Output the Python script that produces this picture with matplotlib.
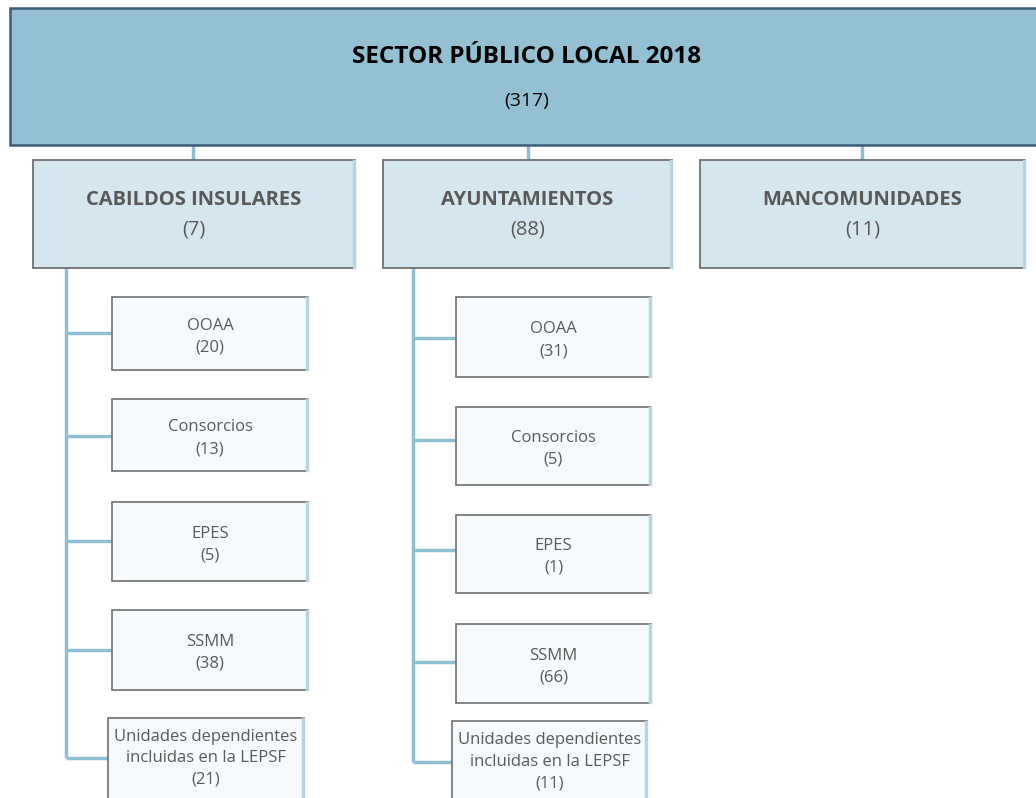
import matplotlib
matplotlib.use('Agg')
import matplotlib.pyplot as plt
import matplotlib.patches as mpatches

plt.rcParams['font.family'] = ['Open Sans', 'DejaVu Sans']

# data
title = 'SECTOR PÚBLICO LOCAL 2018'
total = 317
groups = ['CABILDOS INSULARES', 'AYUNTAMIENTOS', 'MANCOMUNIDADES']
group_counts = [7, 88, 11]
children = ['OOAA', 'Consorcios', 'EPES', 'SSMM', 'Unidades dependientes\nincluidas en la LEPSF']
cabildos_counts = [20, 13, 5, 38, 21]
ayunt_counts = [31, 5, 1, 66, 11]

# colours
TOP_FILL = '#93C0D3'; TOP_EDGE = '#3B5E78'
MID_FILL = '#D6E6EE'; CHILD_FILL = '#F6FAFC'
EDGE = '#707070'; LINK = '#8EBFD2'; TXT = '#595959'

W, H = 1036, 798
fig = plt.figure(figsize=(W / 100, H / 100), dpi=100)
ax = fig.add_axes([0, 0, 1, 1])
ax.set_xlim(0, W); ax.set_ylim(H, 0); ax.axis('off')


def box(x0, y0, x1, y1, fill, edge, lw=1.3, z=3):
    ax.add_patch(mpatches.Rectangle((x0, y0), x1 - x0, y1 - y0, facecolor=fill,
                                    edgecolor=edge, linewidth=lw, zorder=z))
    # light right-hand shade
    ax.plot([x1 - 1, x1 - 1], [y0 + 1, y1 - 1], color='#B7D4E0', lw=2.5, zorder=z + 0.1)


def link(xs, ys):
    ax.plot(xs, ys, color=LINK, lw=2.5, zorder=1, solid_capstyle='butt')


# top box
ax.add_patch(mpatches.Rectangle((10, 8), 1040, 137, facecolor=TOP_FILL,
                                edgecolor=TOP_EDGE, linewidth=1.8, zorder=3))
ax.text(527, 57, title, ha='center', va='center', fontsize=17.5,
        fontweight='bold', color='black', zorder=5)
ax.text(527, 101, f'({total})', ha='center', va='center', fontsize=14,
        color='black', zorder=5)

# second level
mid_x = [(33, 355), (383, 672), (700, 1025)]
mid_link = [193, 528, 862]
for (x0, x1), lx, name, n in zip(mid_x, mid_link, groups, group_counts):
    link([lx, lx], [145, 160])
    box(x0, 160, x1, 268, MID_FILL, EDGE)
    cx = (x0 + x1) / 2
    ax.text(cx, 200, name, ha='center', va='center', fontsize=14.5,
            fontweight='bold', color=TXT, zorder=5)
    ax.text(cx, 229, f'({n})', ha='center', va='center', fontsize=14.5,
            color=TXT, zorder=5)

# children
cab_rows = [(297, 370), (399, 471), (502, 581), (610, 690), (718, 800)]
cab_links = [333, 436, 541, 650, 758]
ayu_rows = [(297, 377), (407, 485), (515, 593), (624, 703), (721, 800)]
ayu_links = [338, 440, 550, 662, 762]

cols = [(66, 112, 308, cab_rows, cab_links, cabildos_counts),
        (413, 456, 651, ayu_rows, ayu_links, ayunt_counts)]
for vx, x0, x1, rows, links, counts in cols:
    link([vx, vx], [268, links[-1]])
    for i, ((y0, y1), ly, name, n) in enumerate(zip(rows, links, children, counts)):
        bx0 = x0 - (4 if i == len(children) - 1 else 0)
        bx1 = x1 - (4 if i == len(children) - 1 else 0)
        link([vx, bx0], [ly, ly])
        box(bx0, y0, bx1, y1, CHILD_FILL, EDGE, lw=1.2)
        cx = (bx0 + bx1) / 2
        if '\n' in name:
            lines = name.split('\n') + [f'({n})']
            for k, s in enumerate(lines):
                ax.text(cx, y0 + 19 + 21.5 * k, s, ha='center', va='center',
                        fontsize=12, color=TXT, zorder=5)
        else:
            cy = (y0 + y1) / 2
            ax.text(cx, cy - 8, name, ha='center', va='center', fontsize=12,
                    color=TXT, zorder=5)
            ax.text(cx, cy + 14, f'({n})', ha='center', va='center', fontsize=12,
                    color=TXT, zorder=5)

fig.savefig('out.png', dpi=100, facecolor='white')
plt.close(fig)
